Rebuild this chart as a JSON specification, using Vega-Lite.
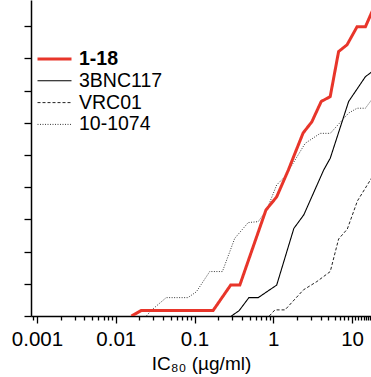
{
  "$schema": "https://vega.github.io/schema/vega-lite/v6.json",
  "width": 340,
  "height": 316,
  "autosize": {"type": "none"},
  "padding": {"left": 31, "top": 0, "right": 0, "bottom": 61},
  "background": "white",
  "config": {
    "view": {"stroke": null},
    "font": "Liberation Sans",
    "axis": {"grid": false, "domainColor": "#000", "tickColor": "#000", "domainWidth": 1.5, "tickWidth": 1.3, "labelColor": "#000", "titleColor": "#000", "labelFont": "Liberation Sans", "titleFont": "Liberation Sans"}
  },
  "data": {
    "values": [
      {"ab": "3BNC117", "ic80": 0.294, "pct": 0},
      {"ab": "3BNC117", "ic80": 0.368, "pct": 1.65},
      {"ab": "3BNC117", "ic80": 0.49, "pct": 5.7},
      {"ab": "3BNC117", "ic80": 0.644, "pct": 5.7},
      {"ab": "3BNC117", "ic80": 1.105, "pct": 9.6},
      {"ab": "3BNC117", "ic80": 1.825, "pct": 27.2},
      {"ab": "3BNC117", "ic80": 2.44, "pct": 31.4},
      {"ab": "3BNC117", "ic80": 4.36, "pct": 45.3},
      {"ab": "3BNC117", "ic80": 5.29, "pct": 49.0},
      {"ab": "3BNC117", "ic80": 9.05, "pct": 66.6},
      {"ab": "3BNC117", "ic80": 14.78, "pct": 74.3},
      {"ab": "3BNC117", "ic80": 19.5, "pct": 76.5},
      {"ab": "VRC01", "ic80": 0.889, "pct": 0},
      {"ab": "VRC01", "ic80": 1.05, "pct": 1.9},
      {"ab": "VRC01", "ic80": 1.41, "pct": 1.9},
      {"ab": "VRC01", "ic80": 2.41, "pct": 8.1},
      {"ab": "VRC01", "ic80": 3.58, "pct": 10.7},
      {"ab": "VRC01", "ic80": 5.29, "pct": 13.8},
      {"ab": "VRC01", "ic80": 6.75, "pct": 23.9},
      {"ab": "VRC01", "ic80": 8.71, "pct": 27.0},
      {"ab": "VRC01", "ic80": 11.69, "pct": 35.7},
      {"ab": "VRC01", "ic80": 19.5, "pct": 44.5},
      {"ab": "10-1074", "ic80": 0.0245, "pct": 0},
      {"ab": "10-1074", "ic80": 0.0281, "pct": 1.7},
      {"ab": "10-1074", "ic80": 0.0437, "pct": 5.7},
      {"ab": "10-1074", "ic80": 0.0824, "pct": 5.7},
      {"ab": "10-1074", "ic80": 0.1055, "pct": 7.5},
      {"ab": "10-1074", "ic80": 0.156, "pct": 13.8},
      {"ab": "10-1074", "ic80": 0.226, "pct": 13.8},
      {"ab": "10-1074", "ic80": 0.324, "pct": 24.1},
      {"ab": "10-1074", "ic80": 0.48, "pct": 29.0},
      {"ab": "10-1074", "ic80": 0.644, "pct": 29.3},
      {"ab": "10-1074", "ic80": 0.824, "pct": 32.9},
      {"ab": "10-1074", "ic80": 1.105, "pct": 40.7},
      {"ab": "10-1074", "ic80": 1.41, "pct": 43.3},
      {"ab": "10-1074", "ic80": 2.54, "pct": 53.6},
      {"ab": "10-1074", "ic80": 3.94, "pct": 56.7},
      {"ab": "10-1074", "ic80": 5.29, "pct": 56.7},
      {"ab": "10-1074", "ic80": 9.05, "pct": 63.0},
      {"ab": "10-1074", "ic80": 11.58, "pct": 64.5},
      {"ab": "10-1074", "ic80": 14.78, "pct": 64.5},
      {"ab": "10-1074", "ic80": 19.5, "pct": 68.5},
      {"ab": "1-18", "ic80": 0.0158, "pct": 0},
      {"ab": "1-18", "ic80": 0.0211, "pct": 1.7},
      {"ab": "1-18", "ic80": 0.172, "pct": 1.7},
      {"ab": "1-18", "ic80": 0.288, "pct": 9.6},
      {"ab": "1-18", "ic80": 0.376, "pct": 9.6},
      {"ab": "1-18", "ic80": 0.807, "pct": 32.9},
      {"ab": "1-18", "ic80": 1.105, "pct": 37.0},
      {"ab": "1-18", "ic80": 1.553, "pct": 45.3},
      {"ab": "1-18", "ic80": 1.892, "pct": 50.6},
      {"ab": "1-18", "ic80": 2.39, "pct": 56.8},
      {"ab": "1-18", "ic80": 3.09, "pct": 60.3},
      {"ab": "1-18", "ic80": 4.06, "pct": 66.6},
      {"ab": "1-18", "ic80": 5.28, "pct": 68.1},
      {"ab": "1-18", "ic80": 6.75, "pct": 82.1},
      {"ab": "1-18", "ic80": 8.64, "pct": 84.2},
      {"ab": "1-18", "ic80": 11.58, "pct": 89.8},
      {"ab": "1-18", "ic80": 14.78, "pct": 89.8},
      {"ab": "1-18", "ic80": 19.5, "pct": 96.5}
    ]
  },
  "mark": {"type": "line", "clip": true, "interpolate": "linear"},
  "encoding": {
    "x": {
      "field": "ic80",
      "type": "quantitative",
      "scale": {"type": "log", "domain": [0.00084, 17.4], "nice": false},
      "axis": {
        "title": "IC₈₀ (µg/ml)",
        "titleFontSize": 19,
        "titleFontWeight": "normal",
        "titlePadding": 5,
        "labelFontSize": 20.5,
        "labelPadding": 6,
        "labelOverlap": false,
        "format": "~g",
        "values": [0.0009, 0.001, 0.002, 0.003, 0.004, 0.005, 0.006, 0.007, 0.008, 0.009, 0.01, 0.02, 0.03, 0.04, 0.05, 0.06, 0.07, 0.08, 0.09, 0.1, 0.2, 0.3, 0.4, 0.5, 0.6, 0.7, 0.8, 0.9, 1, 2, 3, 4, 5, 6, 7, 8, 9, 10, 11, 12, 13, 14, 15, 16, 17],
        "labelExpr": "abs(log(datum.value)/LN10 - round(log(datum.value)/LN10)) < 0.000001 ? datum.label : ''",
        "tickSize": {"condition": {"test": "abs(log(datum.value)/LN10 - round(log(datum.value)/LN10)) < 0.000001", "value": 7}, "value": 4}
      }
    },
    "y": {
      "field": "pct",
      "type": "quantitative",
      "scale": {"domain": [0, 98.1], "nice": false},
      "axis": {"title": null, "labels": false, "values": [0, 10, 20, 30, 40, 50, 60, 70, 80, 90], "tickSize": 7}
    },
    "color": {
      "field": "ab",
      "type": "nominal",
      "sort": ["1-18", "3BNC117", "VRC01", "10-1074"],
      "scale": {"domain": ["1-18", "3BNC117", "VRC01", "10-1074"], "range": ["#e8352a", "#000000", "#222222", "#3a3a3a"]},
      "legend": {
        "title": null,
        "orient": "none",
        "legendX": 5,
        "legendY": 50,
        "padding": 0,
        "symbolType": "stroke",
        "symbolSize": 1156,
        "clipHeight": 18,
        "labelFontSize": 19.5,
        "labelFont": "Liberation Sans",
        "labelColor": "#000",
        "labelOffset": 6,
        "rowPadding": 1.8,
        "labelFontWeight": {"expr": "datum.value === '1-18' ? 'bold' : 'normal'"}
      }
    },
    "strokeDash": {
      "field": "ab",
      "type": "nominal",
      "sort": ["1-18", "3BNC117", "VRC01", "10-1074"],
      "scale": {"domain": ["1-18", "3BNC117", "VRC01", "10-1074"], "range": [[1, 0], [1, 0], [3, 2], [1, 1.5]]}
    },
    "strokeWidth": {
      "field": "ab",
      "type": "nominal",
      "sort": ["1-18", "3BNC117", "VRC01", "10-1074"],
      "scale": {"type": "ordinal", "domain": ["1-18", "3BNC117", "VRC01", "10-1074"], "range": [3, 1.1, 1, 1]}
    }
  }
}
